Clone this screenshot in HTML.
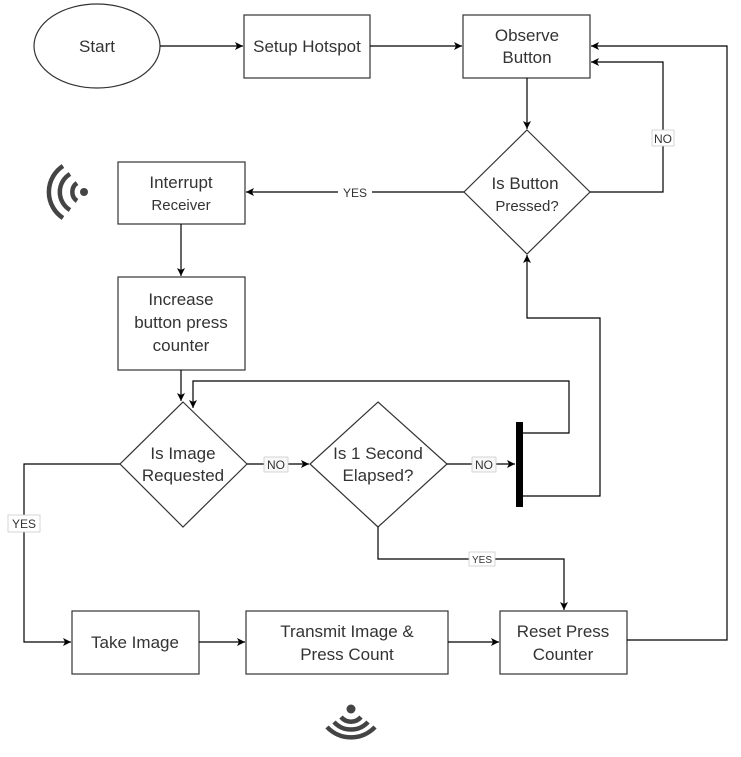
<!DOCTYPE html>
<html><head><style>
html,body{margin:0;padding:0;background:#fff;}
svg text{font-family:"Liberation Sans",Arial,sans-serif;fill:#333;}
</style></head><body>
<svg width="741" height="752" viewBox="0 0 741 752" xmlns="http://www.w3.org/2000/svg">
<defs>
<marker id="a" markerWidth="10" markerHeight="10" refX="9" refY="5" orient="auto" markerUnits="userSpaceOnUse">
<path d="M1,1 L9,5 L1,9 L3,5 Z" fill="#000"/></marker>
</defs>
<g fill="none" stroke="#333" stroke-width="1.2">
<ellipse cx="97" cy="46" rx="63" ry="42"/>
<rect x="244" y="15" width="126" height="63"/>
<rect x="463" y="15" width="127" height="63"/>
<polygon points="527,130 590,192 527,254 464,192"/>
<rect x="118" y="162" width="127" height="62"/>
<rect x="118" y="277" width="127" height="93"/>
<polygon points="183,402 247,464 183,527 120,464"/>
<polygon points="378,402 447,464 378,527 310,464"/>
<rect x="72" y="611" width="127" height="63"/>
<rect x="246" y="611" width="202" height="63"/>
<rect x="500" y="611" width="127" height="63"/>
</g>
<g fill="none" stroke="#000" stroke-width="1.2">
<path d="M160,46 H243" marker-end="url(#a)"/>
<path d="M370,46 H462" marker-end="url(#a)"/>
<path d="M527,78 V129" marker-end="url(#a)"/>
<path d="M590,192 H663 V62 H591" marker-end="url(#a)"/>
<path d="M627,640 H727 V46 H591" marker-end="url(#a)"/>
<path d="M464,192 H246" marker-end="url(#a)"/>
<path d="M181,224 V276" marker-end="url(#a)"/>
<path d="M181,370 V401" marker-end="url(#a)"/>
<path d="M247,464 H309" marker-end="url(#a)"/>
<path d="M447,464 H515" marker-end="url(#a)"/>
<path d="M523,433 H569 V381 H193 V408" marker-end="url(#a)"/>
<path d="M523,496 H600 V318 H527 V255" marker-end="url(#a)"/>
<path d="M120,464 H24 V642 H71" marker-end="url(#a)"/>
<path d="M199,642 H245" marker-end="url(#a)"/>
<path d="M448,642 H499" marker-end="url(#a)"/>
<path d="M378,527 V559 H564 V610" marker-end="url(#a)"/>
</g>
<rect x="516" y="422" width="7" height="85" fill="#000"/>
<g font-size="12" text-anchor="middle">
<rect x="652" y="130" width="22" height="16" fill="#fff" stroke="#ccc" stroke-width="0.8"/><text x="663" y="143">NO</text>
<rect x="338" y="185" width="34" height="15" fill="#fff"/><text x="355" y="197">YES</text>
<rect x="264" y="457" width="24" height="15" fill="#f8f8f8" stroke="#ccc" stroke-width="0.8"/><text x="276" y="469">NO</text>
<rect x="472" y="457" width="24" height="15" fill="#f8f8f8" stroke="#ccc" stroke-width="0.8"/><text x="484" y="469">NO</text>
<rect x="8" y="515" width="32" height="17" fill="#fff" stroke="#ccc" stroke-width="0.8"/><text x="24" y="528">YES</text>
<rect x="469" y="552" width="26" height="14" fill="#fff" stroke="#ccc" stroke-width="0.8"/><text x="482" y="563" font-size="10">YES</text>
</g>
<g font-size="17" text-anchor="middle">
<text x="97" y="52">Start</text>
<text x="307" y="52">Setup Hotspot</text>
<text x="527" y="41">Observe</text>
<text x="527" y="63">Button</text>
<text x="525" y="189">Is Button</text>
<text x="527" y="211" font-size="15">Pressed?</text>
<text x="181" y="188">Interrupt</text>
<text x="181" y="210" font-size="15">Receiver</text>
<text x="181" y="305">Increase</text>
<text x="181" y="328">button press</text>
<text x="181" y="351">counter</text>
<text x="183" y="459">Is Image</text>
<text x="183" y="481">Requested</text>
<text x="378" y="459">Is 1 Second</text>
<text x="378" y="481">Elapsed?</text>
<text x="135" y="648">Take Image</text>
<text x="347" y="637">Transmit Image &amp;</text>
<text x="347" y="660">Press Count</text>
<text x="563" y="637">Reset Press</text>
<text x="563" y="660">Counter</text>
</g>
<g fill="none" stroke="#444" stroke-width="4.5" stroke-linecap="butt">
<circle cx="84" cy="192" r="4" fill="#444" stroke="none"/>
<path d="M77,183 A11,11 0 0 0 77,201"/>
<path d="M70,174 A21,21 0 0 0 70,210"/>
<path d="M63,166 A31,31 0 0 0 63,218"/>
<circle cx="351" cy="709" r="4.5" fill="#444" stroke="none"/>
<path d="M341,717 A13,13 0 0 0 361,717"/>
<path d="M334,722 A23,23 0 0 0 368,722"/>
<path d="M327,727 A33,33 0 0 0 375,727"/>
</g>
</svg>
</body></html>
